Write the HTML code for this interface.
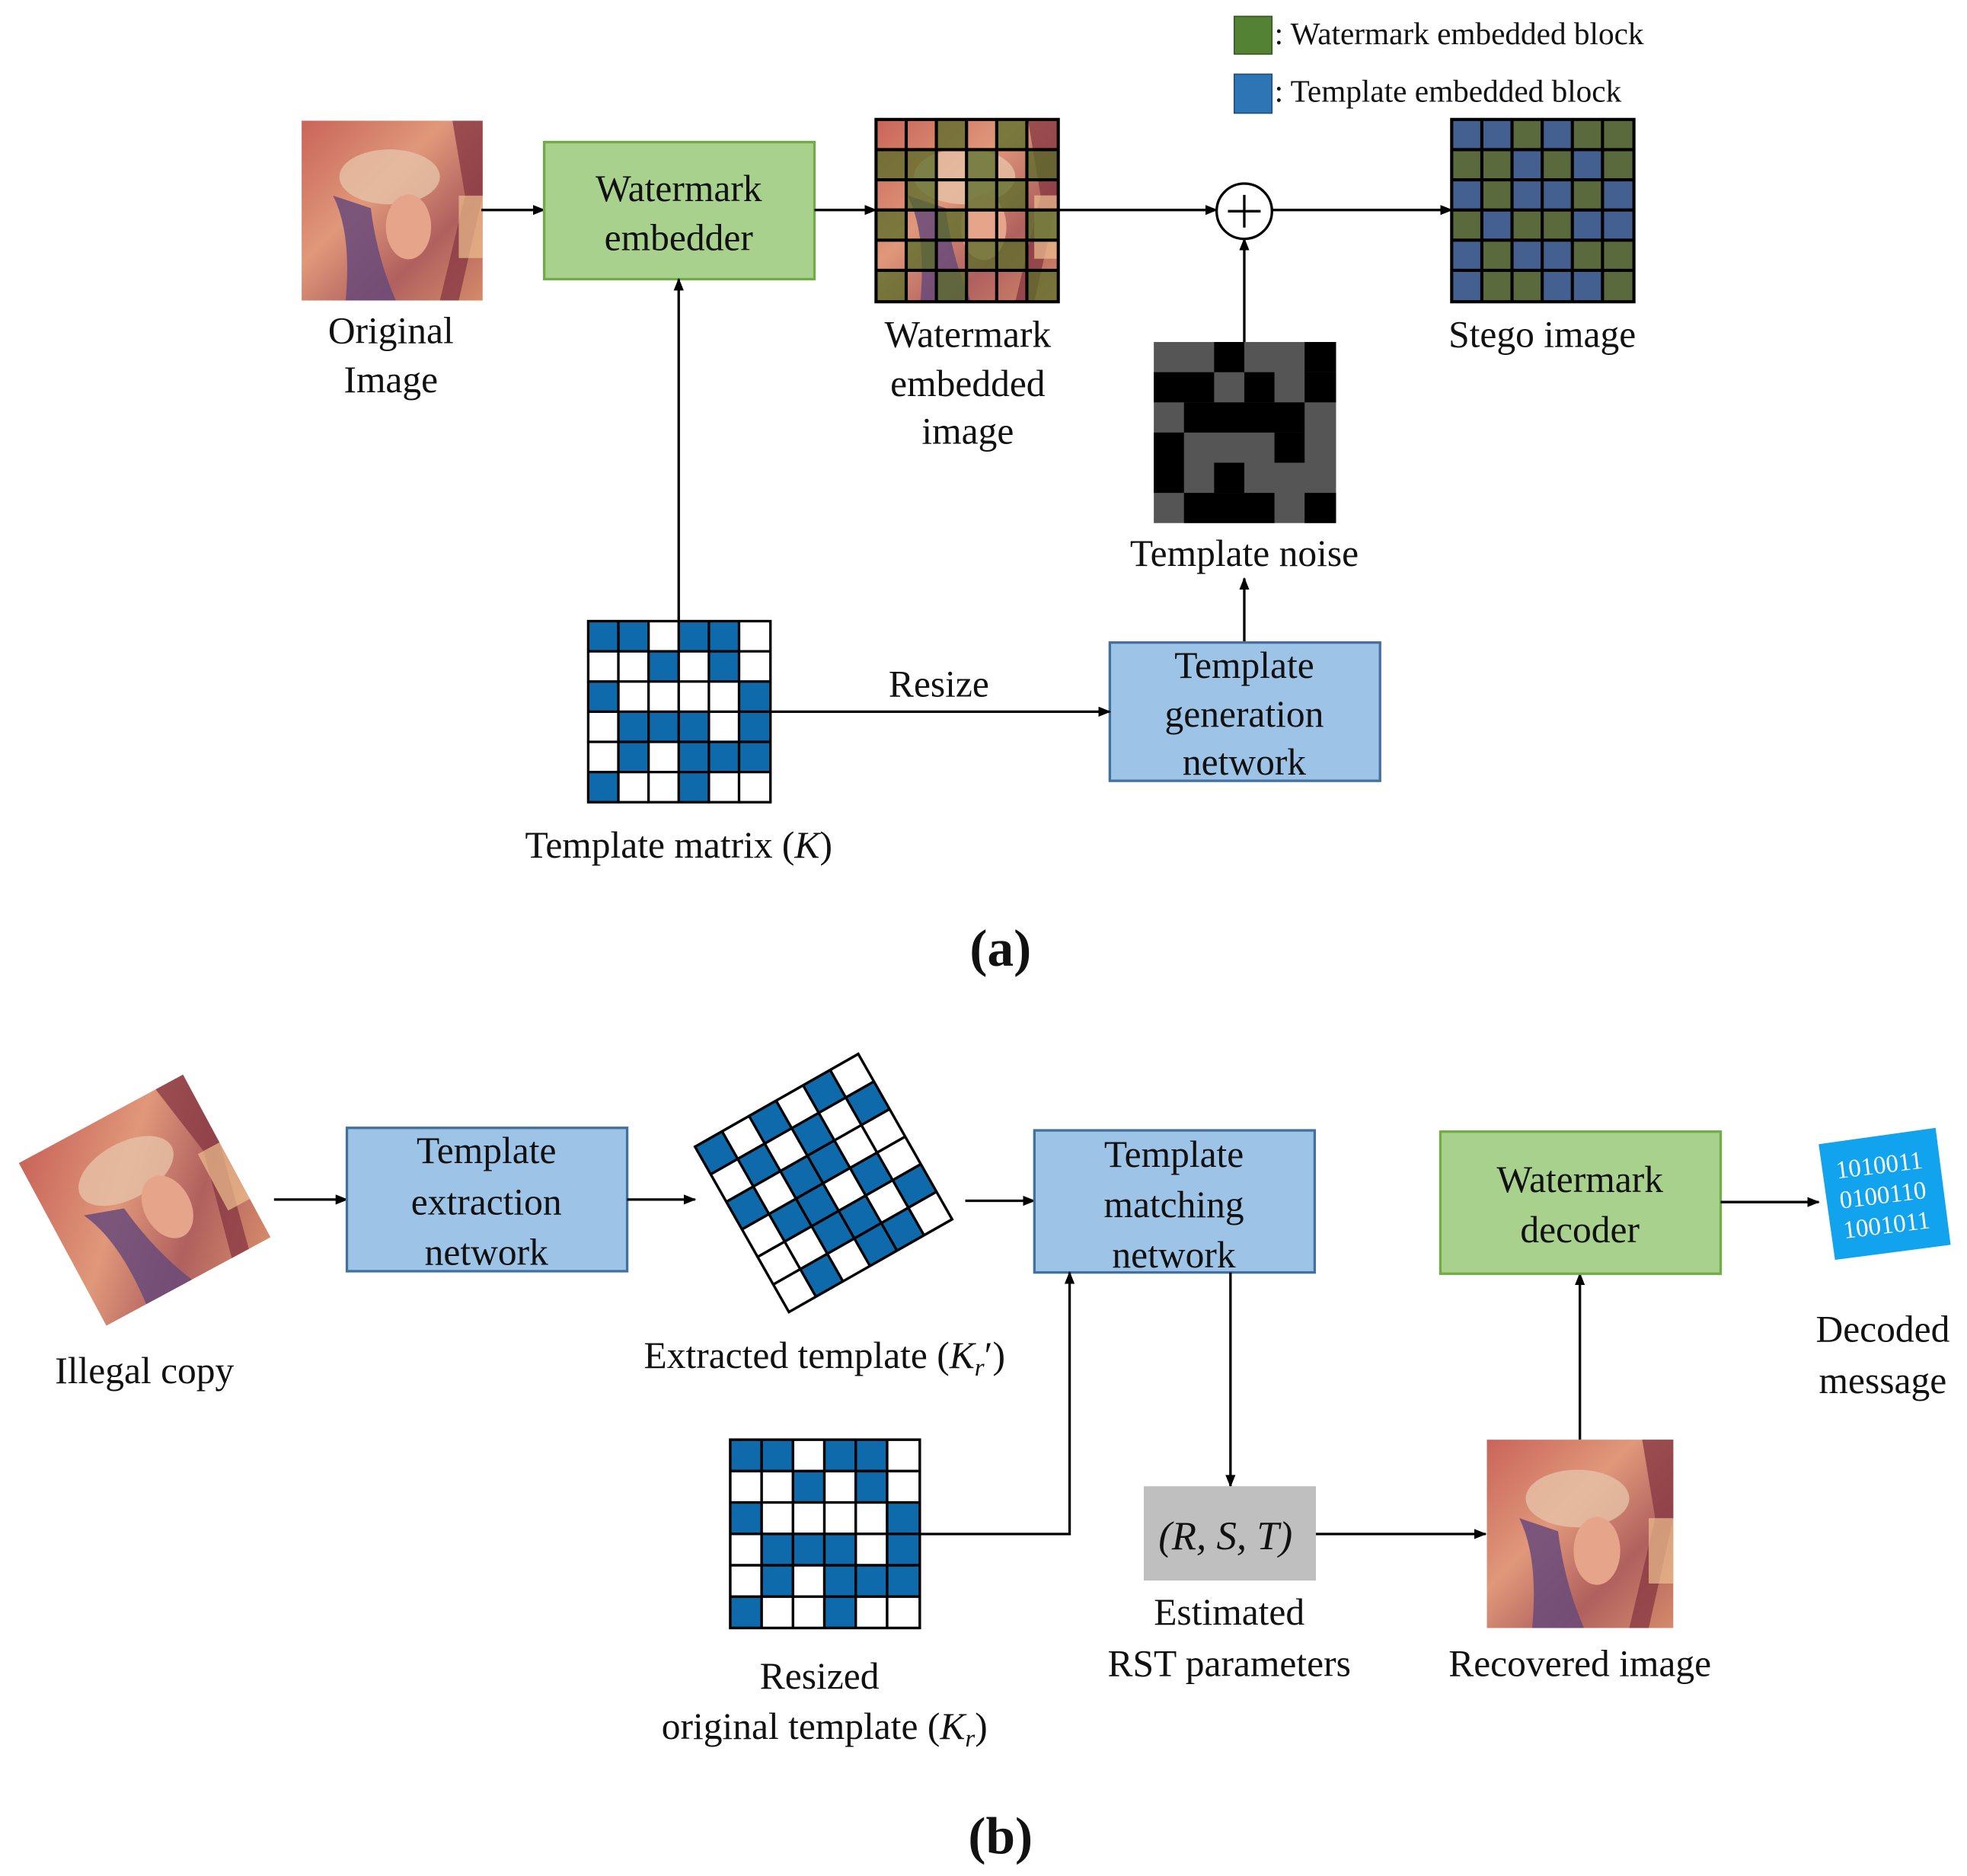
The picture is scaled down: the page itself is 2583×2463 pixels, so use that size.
<!DOCTYPE html>
<html><head><meta charset="utf-8"><style>
html,body{margin:0;padding:0;background:#fff;}
svg{display:block;}
text{font-family:"Liberation Serif",serif;fill:#111;}
</style></head><body>
<svg width="2583" height="2463" viewBox="0 0 1565 1492" preserveAspectRatio="none" xmlns="http://www.w3.org/2000/svg">
<defs>
<marker id="ar" markerWidth="10" markerHeight="8" refX="9" refY="4" orient="auto" markerUnits="userSpaceOnUse"><path d="M0,0 L10,4 L0,8 Z" fill="#000"/></marker>
<linearGradient id="lena" x1="0" y1="0" x2="1" y2="1">
<stop offset="0" stop-color="#c9645a"/><stop offset="0.4" stop-color="#e0987a"/><stop offset="0.7" stop-color="#b0605e"/><stop offset="1" stop-color="#d48a6a"/></linearGradient>
<g id="lenaimg">
<rect x="0" y="0" width="144" height="144" fill="url(#lena)"/>
<ellipse cx="70" cy="45" rx="40" ry="22" fill="#e6c2a6" opacity="0.8"/>
<path d="M25,60 Q40,90 35,144 L75,144 Q60,110 55,70 Z" fill="#6a4a7a" opacity="0.85"/>
<ellipse cx="85" cy="85" rx="18" ry="26" fill="#e6a58a"/>
<path d="M120,0 L144,0 L144,60 L125,144 L110,144 L130,60 Z" fill="#8a3b45" opacity="0.8"/>
<rect x="125" y="60" width="19" height="50" fill="#eec08e" opacity="0.7"/>
</g>
</defs>

<!-- legend -->
<rect x="982" y="13" width="30" height="30" fill="#548235" stroke="#385723"/>
<text x="1014" y="35" font-size="25">: Watermark embedded block</text>
<rect x="982" y="59" width="30" height="31" fill="#2e75b6" stroke="#1f4e79"/>
<text x="1014" y="81" font-size="25">: Template embedded block</text>

<!-- original image -->
<use href="#lenaimg" transform="translate(240,96) scale(1,0.993)"/>
<text x="311" y="273" font-size="30" text-anchor="middle">Original</text>
<text x="311" y="312" font-size="30" text-anchor="middle">Image</text>
<line x1="383" y1="167" x2="433" y2="167" stroke="#000" stroke-width="2" marker-end="url(#ar)"/>

<rect x="433" y="113" width="215" height="109" fill="#a9d18e" stroke="#70ad47" stroke-width="2"/>
<text x="540" y="160" font-size="30" text-anchor="middle">Watermark</text>
<text x="540" y="199" font-size="30" text-anchor="middle">embedder</text>
<line x1="648" y1="167" x2="697" y2="167" stroke="#000" stroke-width="2" marker-end="url(#ar)"/>

<!-- watermark embedded image -->
<g transform="translate(697,95)">
<use href="#lenaimg" transform="scale(1.007)"/>
<g fill="#5a6e2a" opacity="0.75">
<rect x="48" y="0" width="24" height="24"/><rect x="96" y="0" width="24" height="24"/>
<rect x="0" y="24" width="24" height="24"/><rect x="24" y="24" width="24" height="24"/><rect x="72" y="24" width="24" height="24"/><rect x="120" y="24" width="25" height="24"/>
<rect x="24" y="48" width="24" height="24"/><rect x="72" y="48" width="24" height="24"/><rect x="96" y="48" width="24" height="24"/>
<rect x="0" y="72" width="24" height="24"/><rect x="48" y="72" width="24" height="24"/><rect x="120" y="72" width="25" height="24"/>
<rect x="24" y="96" width="24" height="24"/><rect x="72" y="96" width="24" height="24"/><rect x="96" y="96" width="24" height="24"/>
<rect x="0" y="120" width="24" height="25"/><rect x="48" y="120" width="24" height="25"/><rect x="120" y="120" width="25" height="25"/>
</g>
<g stroke="#000" stroke-width="2.5" fill="none">
<rect x="0" y="0" width="145" height="145"/>
<path d="M24,0V145M48,0V145M72,0V145M96,0V145M120,0V145M0,24H145M0,48H145M0,72H145M0,96H145M0,120H145"/>
</g></g>
<text x="770" y="276" font-size="30" text-anchor="middle">Watermark</text>
<text x="770" y="315" font-size="30" text-anchor="middle">embedded</text>
<text x="770" y="353" font-size="30" text-anchor="middle">image</text>

<line x1="842" y1="167" x2="968" y2="167" stroke="#000" stroke-width="2" marker-end="url(#ar)"/>
<circle cx="990" cy="168" r="22" fill="#fff" stroke="#000" stroke-width="2"/>
<path d="M990,155V181M977,168H1003" stroke="#000" stroke-width="2"/>
<line x1="1012" y1="167" x2="1155" y2="167" stroke="#000" stroke-width="2" marker-end="url(#ar)"/>

<!-- stego -->
<g transform="translate(1155,95)">
<rect width="145" height="145" fill="#5b6a3c"/>
<g fill="#3f5fa0" opacity="0.85">
<rect x="0" y="0" width="24" height="24"/><rect x="24" y="0" width="24" height="24"/><rect x="72" y="0" width="24" height="24"/>
<rect x="48" y="24" width="24" height="24"/><rect x="96" y="24" width="24" height="24"/>
<rect x="0" y="48" width="24" height="24"/><rect x="48" y="48" width="24" height="24"/><rect x="72" y="48" width="24" height="24"/><rect x="120" y="48" width="25" height="24"/>
<rect x="24" y="72" width="24" height="24"/><rect x="96" y="72" width="24" height="24"/><rect x="120" y="72" width="25" height="24"/>
<rect x="0" y="96" width="24" height="24"/><rect x="48" y="96" width="24" height="24"/><rect x="72" y="96" width="24" height="24"/>
<rect x="0" y="120" width="24" height="25"/><rect x="72" y="120" width="24" height="25"/><rect x="96" y="120" width="24" height="25"/>
</g>
<g stroke="#000" stroke-width="2.5" fill="none">
<rect x="0" y="0" width="145" height="145"/>
<path d="M24,0V145M48,0V145M72,0V145M96,0V145M120,0V145M0,24H145M0,48H145M0,72H145M0,96H145M0,120H145"/>
</g></g>
<text x="1227" y="276" font-size="30" text-anchor="middle">Stego image</text>

<!-- template noise -->
<g transform="translate(918,272)">
<rect width="145" height="144" fill="#555"/>
<g fill="#000">
<rect x="48" y="0" width="24" height="24"/><rect x="120" y="0" width="25" height="24"/>
<rect x="0" y="24" width="48" height="24"/><rect x="72" y="24" width="24" height="24"/><rect x="120" y="24" width="25" height="24"/>
<rect x="24" y="48" width="96" height="24"/>
<rect x="0" y="72" width="24" height="24"/><rect x="96" y="72" width="24" height="24"/>
<rect x="0" y="96" width="24" height="24"/><rect x="48" y="96" width="24" height="24"/>
<rect x="24" y="120" width="72" height="24"/><rect x="120" y="120" width="25" height="24"/>
</g></g>
<line x1="990" y1="272" x2="990" y2="190" stroke="#000" stroke-width="2" marker-end="url(#ar)"/>
<text x="990" y="450" font-size="30" text-anchor="middle">Template noise</text>
<line x1="990" y1="511" x2="990" y2="460" stroke="#000" stroke-width="2" marker-end="url(#ar)"/>

<rect x="883" y="511" width="215" height="110" fill="#9dc3e6" stroke="#41719c" stroke-width="2"/>
<text x="990" y="539" font-size="30" text-anchor="middle">Template</text>
<text x="990" y="578" font-size="30" text-anchor="middle">generation</text>
<text x="990" y="616" font-size="30" text-anchor="middle">network</text>

<!-- template matrix -->
<g id="tm" transform="translate(468,494)">
<rect width="145" height="144" fill="#fff"/>
<g fill="#0e6aab">
<rect x="0" y="0" width="48" height="24"/><rect x="72" y="0" width="48" height="24"/>
<rect x="48" y="24" width="24" height="24"/><rect x="96" y="24" width="24" height="24"/>
<rect x="0" y="48" width="24" height="24"/><rect x="120" y="48" width="25" height="24"/>
<rect x="24" y="72" width="72" height="24"/><rect x="120" y="72" width="25" height="24"/>
<rect x="24" y="96" width="24" height="24"/><rect x="72" y="96" width="73" height="24"/>
<rect x="0" y="120" width="24" height="24"/><rect x="72" y="120" width="24" height="24"/>
</g>
<g stroke="#000" stroke-width="2" fill="none">
<rect x="0" y="0" width="145" height="144"/>
<path d="M24,0V144M48,0V144M72,0V144M96,0V144M120,0V144M0,24H145M0,48H145M0,72H145M0,96H145M0,120H145"/>
</g></g>
<line x1="540" y1="494" x2="540" y2="222" stroke="#000" stroke-width="2" marker-end="url(#ar)"/>
<line x1="613" y1="566" x2="883" y2="566" stroke="#000" stroke-width="2" marker-end="url(#ar)"/>
<text x="747" y="554" font-size="30" text-anchor="middle">Resize</text>
<text x="540" y="682" font-size="30" text-anchor="middle">Template matrix (<tspan font-style="italic">K</tspan>)</text>
<text x="796" y="768" font-size="42" font-weight="bold" text-anchor="middle">(a)</text>

<!-- part b -->
<g transform="translate(15,925) rotate(-28.3)">
<use href="#lenaimg" transform="scale(1.03,1.02)"/>
</g>
<text x="115" y="1100" font-size="30" text-anchor="middle">Illegal copy</text>
<line x1="218" y1="954" x2="276" y2="954" stroke="#000" stroke-width="2" marker-end="url(#ar)"/>

<rect x="276" y="897" width="223" height="114" fill="#9dc3e6" stroke="#41719c" stroke-width="2"/>
<text x="387" y="925" font-size="30" text-anchor="middle">Template</text>
<text x="387" y="966" font-size="30" text-anchor="middle">extraction</text>
<text x="387" y="1006" font-size="30" text-anchor="middle">network</text>
<line x1="499" y1="954" x2="553" y2="954" stroke="#000" stroke-width="2" marker-end="url(#ar)"/>

<!-- rotated extracted template -->
<g transform="translate(553,912) rotate(-29.6) scale(1.03,1.05)">
<rect width="145" height="144" fill="#fff"/>
<g fill="#0e6aab">
<rect x="0" y="0" width="24" height="24"/><rect x="48" y="0" width="24" height="24"/><rect x="96" y="0" width="24" height="24"/>
<rect x="24" y="24" width="24" height="24"/><rect x="72" y="24" width="24" height="24"/><rect x="120" y="24" width="25" height="24"/>
<rect x="0" y="48" width="24" height="24"/><rect x="48" y="48" width="48" height="24"/>
<rect x="24" y="72" width="48" height="24"/><rect x="96" y="72" width="24" height="24"/>
<rect x="48" y="96" width="24" height="24"/><rect x="72" y="96" width="24" height="24"/><rect x="120" y="96" width="25" height="24"/>
<rect x="24" y="120" width="24" height="24"/><rect x="72" y="120" width="48" height="24"/>
</g>
<g stroke="#000" stroke-width="2" fill="none">
<rect x="0" y="0" width="145" height="144"/>
<path d="M24,0V144M48,0V144M72,0V144M96,0V144M120,0V144M0,24H145M0,48H145M0,72H145M0,96H145M0,120H145"/>
</g></g>
<text x="656" y="1088" font-size="30" text-anchor="middle">Extracted template (<tspan font-style="italic">K</tspan><tspan font-style="italic" font-size="20" dy="6">r</tspan><tspan dy="-6">′)</tspan></text>
<line x1="768" y1="955" x2="823" y2="955" stroke="#000" stroke-width="2" marker-end="url(#ar)"/>

<rect x="823" y="899" width="223" height="113" fill="#9dc3e6" stroke="#41719c" stroke-width="2"/>
<text x="934" y="928" font-size="30" text-anchor="middle">Template</text>
<text x="934" y="968" font-size="30" text-anchor="middle">matching</text>
<text x="934" y="1008" font-size="30" text-anchor="middle">network</text>

<!-- resized template -->
<g transform="translate(581,1145) scale(1.04,1.04)">
<rect width="145" height="144" fill="#fff"/>
<g fill="#0e6aab">
<rect x="0" y="0" width="48" height="24"/><rect x="72" y="0" width="48" height="24"/>
<rect x="48" y="24" width="24" height="24"/><rect x="96" y="24" width="24" height="24"/>
<rect x="0" y="48" width="24" height="24"/><rect x="120" y="48" width="25" height="24"/>
<rect x="24" y="72" width="72" height="24"/><rect x="120" y="72" width="25" height="24"/>
<rect x="24" y="96" width="24" height="24"/><rect x="72" y="96" width="73" height="24"/>
<rect x="0" y="120" width="24" height="24"/><rect x="72" y="120" width="24" height="24"/>
</g>
<g stroke="#000" stroke-width="2" fill="none">
<rect x="0" y="0" width="145" height="144"/>
<path d="M24,0V144M48,0V144M72,0V144M96,0V144M120,0V144M0,24H145M0,48H145M0,72H145M0,96H145M0,120H145"/>
</g></g>
<text x="652" y="1343" font-size="30" text-anchor="middle">Resized</text>
<text x="656" y="1383" font-size="30" text-anchor="middle">original template (<tspan font-style="italic">K</tspan><tspan font-style="italic" font-size="20" dy="6">r</tspan><tspan dy="-6">)</tspan></text>
<polyline points="732,1220 851,1220 851,1012" fill="none" stroke="#000" stroke-width="2" marker-end="url(#ar)"/>

<line x1="979" y1="1012" x2="979" y2="1182" stroke="#000" stroke-width="2" marker-end="url(#ar)"/>
<rect x="910" y="1182" width="137" height="75" fill="#bfbfbf"/>
<text x="975" y="1232" font-size="32" text-anchor="middle" font-style="italic">(R, S, T)</text>
<text x="978" y="1292" font-size="30" text-anchor="middle">Estimated</text>
<text x="978" y="1333" font-size="30" text-anchor="middle">RST parameters</text>
<line x1="1047" y1="1220" x2="1182" y2="1220" stroke="#000" stroke-width="2" marker-end="url(#ar)"/>

<use href="#lenaimg" transform="translate(1183,1145) scale(1.03,1.04)"/>
<text x="1257" y="1333" font-size="30" text-anchor="middle">Recovered image</text>
<line x1="1257" y1="1145" x2="1257" y2="1013" stroke="#000" stroke-width="2" marker-end="url(#ar)"/>

<rect x="1146" y="900" width="223" height="113" fill="#a9d18e" stroke="#70ad47" stroke-width="2"/>
<text x="1257" y="948" font-size="30" text-anchor="middle">Watermark</text>
<text x="1257" y="988" font-size="30" text-anchor="middle">decoder</text>
<line x1="1369" y1="956" x2="1447" y2="956" stroke="#000" stroke-width="2" marker-end="url(#ar)"/>

<polygon points="1447,910 1540,897 1552,990 1460,1002" fill="#12a3ee"/>
<g transform="rotate(-7 1498 950)">
<text x="1498" y="933" font-size="20" text-anchor="middle" style="fill:#fff">1010011</text>
<text x="1498" y="957" font-size="20" text-anchor="middle" style="fill:#fff">0100110</text>
<text x="1498" y="981" font-size="20" text-anchor="middle" style="fill:#fff">1001011</text>
</g>
<text x="1498" y="1067" font-size="30" text-anchor="middle">Decoded</text>
<text x="1498" y="1108" font-size="30" text-anchor="middle">message</text>
<text x="796" y="1474" font-size="42" font-weight="bold" text-anchor="middle">(b)</text>
</svg>
</body></html>
